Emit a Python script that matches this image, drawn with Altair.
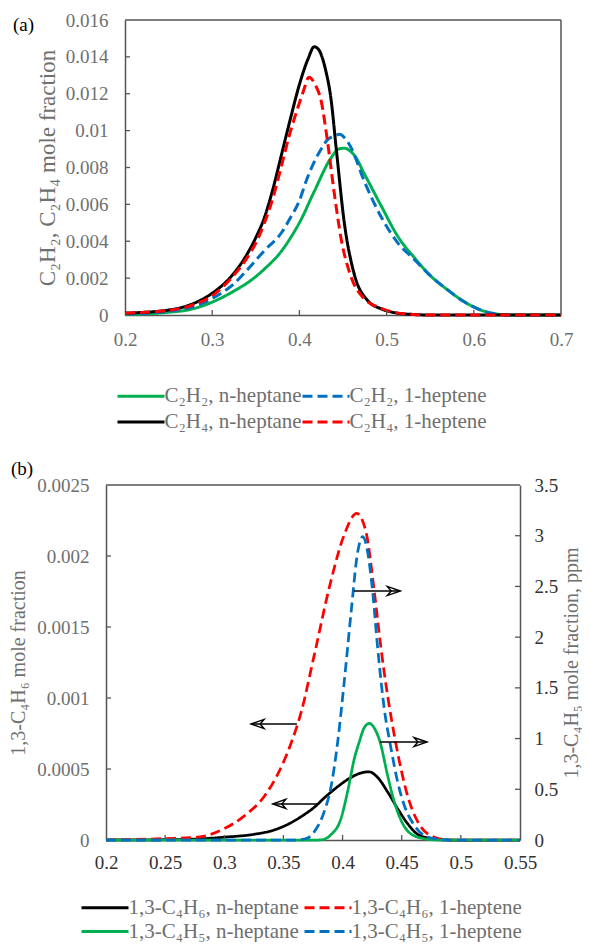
import altair as alt
import pandas as pd

FONT = "Liberation Serif"
GRAY = "#6f6f6f"
DARK = "#333333"
FRAME = "#555555"
GREEN = "#00B050"
BLUE = "#0070C0"
RED = "#FF0000"
BLACK = "#000000"
DASH = [10, 5]
SOLID = [1, 0]

# ---------------- panel (a) data ----------------
a_xticks = [0.2, 0.3, 0.4, 0.5, 0.6, 0.7]
a_yticks = [0, 0.002, 0.004, 0.006, 0.008, 0.01, 0.012, 0.014, 0.016]

a_green_x = [0.20, 0.25, 0.275, 0.30, 0.325, 0.345, 0.36, 0.38, 0.39, 0.40, 0.417, 0.436, 0.445, 0.452,
             0.458, 0.464, 0.474, 0.494, 0.513, 0.532, 0.551, 0.570, 0.589, 0.608, 0.627, 0.645, 0.70]
a_green_y = [0.00003, 0.00015, 0.0003, 0.0007, 0.0013, 0.0019, 0.0025, 0.0035, 0.0042, 0.0050, 0.0067,
             0.0085, 0.0090, 0.00905, 0.0089, 0.0086, 0.0077, 0.0059, 0.00425, 0.0031, 0.0021, 0.00136,
             0.00072, 0.00027, 0.00005, 0.0, 0.0]

a_blue_x = [0.20, 0.25, 0.275, 0.30, 0.325, 0.345, 0.36, 0.38, 0.39, 0.40, 0.408, 0.417, 0.425, 0.432,
            0.440, 0.446, 0.452, 0.459, 0.474, 0.494, 0.513, 0.532, 0.551, 0.570, 0.589, 0.608, 0.627,
            0.645, 0.70]
a_blue_y = [0.00005, 0.0002, 0.0004, 0.0009, 0.0017, 0.0027, 0.0035, 0.0045, 0.0053, 0.0062, 0.0073,
            0.0083, 0.0090, 0.0095, 0.0097, 0.0098, 0.0096, 0.0091, 0.0073, 0.0053, 0.0039, 0.0030,
            0.0021, 0.00136, 0.00072, 0.00027, 0.00005, 0.0, 0.0]

a_black_x = [0.20, 0.25, 0.275, 0.30, 0.32, 0.34, 0.35, 0.36, 0.37, 0.38, 0.39, 0.40, 0.41, 0.417, 0.422,
             0.43, 0.436, 0.4425, 0.4515, 0.463, 0.478, 0.494, 0.51, 0.53, 0.55, 0.70]
a_black_y = [0.0001, 0.00027, 0.00056, 0.00118, 0.0020, 0.0033, 0.0042, 0.0053, 0.0069, 0.0088, 0.0107,
             0.0125, 0.0139, 0.01455, 0.0144, 0.0133, 0.0118, 0.0089, 0.0050, 0.0022, 0.0008, 0.00033,
             0.00012, 0.00003, 0.0, 0.0]

a_red_x = [0.20, 0.25, 0.275, 0.30, 0.32, 0.34, 0.35, 0.36, 0.37, 0.38, 0.39, 0.40, 0.405, 0.411, 0.418,
           0.425, 0.432, 0.44, 0.448, 0.459, 0.474, 0.494, 0.51, 0.53, 0.55, 0.70]
a_red_y = [0.0001, 0.00025, 0.0005, 0.00105, 0.0019, 0.0031, 0.0039, 0.0050, 0.0064, 0.0082, 0.0100,
           0.0115, 0.0122, 0.0129, 0.0125, 0.0116, 0.0095, 0.0066, 0.0041, 0.0021, 0.0009, 0.00036,
           0.00013, 0.00003, 0.0, 0.0]

a_names = ["C₂H₂, n-heptane", "C₂H₂, 1-heptene", "C₂H₄, n-heptane", "C₂H₄, 1-heptene"]
a_colors = [GREEN, BLUE, BLACK, RED]
a_dashes = [SOLID, DASH, SOLID, DASH]

# ---------------- panel (b) data ----------------
b_xticks = [0.2, 0.25, 0.3, 0.35, 0.4, 0.45, 0.5, 0.55]
b_yticks = [0, 0.0005, 0.001, 0.0015, 0.002, 0.0025]
b_y2ticks = [0, 0.5, 1, 1.5, 2, 2.5, 3, 3.5]

b_black_x = [0.20, 0.25, 0.28, 0.30, 0.325, 0.342, 0.356, 0.366, 0.376, 0.385, 0.395, 0.405, 0.4155,
             0.4226, 0.4297, 0.438, 0.4466, 0.455, 0.4635, 0.475, 0.49, 0.55]
b_black_y = [0.0, 0.000002, 0.000008, 0.00002, 0.00004, 0.00007, 0.00012, 0.00017, 0.00023, 0.00030,
             0.00037, 0.00043, 0.000472, 0.00048, 0.00044, 0.00034, 0.00022, 0.000115, 0.00004, 0.00001,
             0.0, 0.0]

b_red_x = [0.20, 0.25, 0.2775, 0.30, 0.317, 0.334, 0.345, 0.3564, 0.365, 0.376, 0.390, 0.4014, 0.412,
           0.4198, 0.4268, 0.4325, 0.438, 0.4437, 0.4494, 0.455, 0.4635, 0.4747, 0.49, 0.55]
b_red_y = [0.0, 0.00001, 0.00002, 0.00008, 0.00017, 0.00031, 0.00046, 0.00068, 0.0009, 0.0013, 0.00182,
           0.00215, 0.0023, 0.00217, 0.00175, 0.00135, 0.00102, 0.00074, 0.0005, 0.00031, 0.00013,
           0.00003, 0.0, 0.0]

b_green_x = [0.20, 0.38, 0.385, 0.390, 0.3986, 0.4043, 0.4099, 0.4142, 0.418, 0.4226, 0.427, 0.4316,
             0.438, 0.4415, 0.45, 0.455, 0.466, 0.48, 0.55]
b_green_y = [0.0, 0.0, 0.01, 0.05, 0.21, 0.48, 0.80, 0.97, 1.10, 1.15, 1.10, 0.97, 0.64, 0.47, 0.18,
             0.09, 0.02, 0.0, 0.0]

b_blue_x = [0.20, 0.36, 0.3705, 0.376, 0.3845, 0.390, 0.3959, 0.4014, 0.407, 0.4128, 0.417, 0.4212,
            0.4254, 0.4297, 0.4353, 0.441, 0.4466, 0.4522, 0.4606, 0.472, 0.49, 0.55]
b_blue_y = [0.0, 0.0, 0.02, 0.08, 0.28, 0.51, 0.97, 1.56, 2.22, 2.84, 2.99, 2.84, 2.45, 1.89, 1.29,
            0.90, 0.57, 0.34, 0.145, 0.03, 0.0, 0.0]

b_names = ["1,3-C₄H₆, n-heptane", "1,3-C₄H₆, 1-heptene", "1,3-C₄H₅, n-heptane", "1,3-C₄H₅, 1-heptene"]
b_colors = [BLACK, RED, GREEN, BLUE]
b_dashes = [SOLID, DASH, SOLID, DASH]

# arrows (left-axis and right-axis ones)
arrL_from = [0.3614, 0.380]
arrL_tip = [0.3226, 0.341]
arrL_y = [0.000817, 0.000254]
arrR_from = [0.4096, 0.4316]
arrR_tip = [0.4488, 0.4714]
arrR_y = [2.455, 0.966]


def series(xs, ys, name):
    return pd.DataFrame({"x": xs, "y": ys, "series": name})


def legend(lx, ly, colpad, rowpad):
    # a long horizontal line symbol drawn with a small nominal size, so rows stay tight
    return alt.Legend(title=None, orient="none", legendX=lx, legendY=ly, columns=2,
                      direction="horizontal", symbolType="M-2.35,0L2.35,0", symbolSize=400,
                      symbolOffset=12, symbolStrokeWidth=3, symbolFillColor="transparent",
                      labelFont=FONT, labelFontSize=21, labelColor=GRAY,
                      labelOffset=12, columnPadding=colpad, rowPadding=rowpad, labelLimit=400)


def lab_axis(**kw):
    base = dict(format="~g", labelFont=FONT, labelFontSize=19, ticks=False, tickSize=0,
                domainColor=FRAME, domainWidth=1.5, grid=False, labelOverlap=False,
                titleFont=FONT, titleFontSize=20, titleFontWeight="normal", titleColor=GRAY)
    base.update(kw)
    return alt.Axis(**base)


# ---------------- panel (a) ----------------
AW, AH, AOFF = 455, 295, 19
xa = alt.Scale(domain=[0.2, 0.7], range=[AOFF, AW], nice=False, zero=False)
ya = alt.Scale(domain=[0, 0.016], nice=False, zero=False)
ax_ax = lab_axis(values=a_xticks, labelColor=GRAY, labelPadding=15, labelFlush=False, title=None)
ax_ay = lab_axis(values=a_yticks, labelColor=GRAY, labelPadding=17, offset=-AOFF,
                 title="C₂H₂, C₂H₄ mole fraction", titleFontSize=23, titlePadding=6)
leg_a = legend(11.5, 364.5, -9, 4)


def AX(f):
    return alt.X(f, scale=xa, axis=ax_ax)


def AY(f):
    return alt.Y(f, scale=ya, axis=ax_ay)


a_df = pd.concat([series(a_green_x, a_green_y, a_names[0]), series(a_blue_x, a_blue_y, a_names[1]),
                  series(a_black_x, a_black_y, a_names[2]), series(a_red_x, a_red_y, a_names[3])])

a_lines = alt.Chart(a_df).mark_line(strokeWidth=3, interpolate="monotone").encode(
    x=AX("x:Q"), y=AY("y:Q"),
    color=alt.Color("series:N", scale=alt.Scale(domain=a_names, range=a_colors), legend=leg_a),
    strokeDash=alt.StrokeDash("series:N", scale=alt.Scale(domain=a_names, range=a_dashes), legend=leg_a),
)

a_top = alt.Chart(pd.DataFrame({"x": [0.2], "x2": [0.7], "y": [0.016]})).mark_rule(
    color=FRAME, strokeWidth=1.5).encode(x=AX("x:Q"), x2="x2:Q", y=AY("y:Q"))
a_right = alt.Chart(pd.DataFrame({"x": [0.7], "y": [0.0], "y2": [0.016]})).mark_rule(
    color=FRAME, strokeWidth=1.5).encode(x=AX("x:Q"), y=AY("y:Q"), y2="y2:Q")
a_yt = alt.Chart(pd.DataFrame({"y": a_yticks[1:-1]})).mark_rule(color=FRAME, strokeWidth=1.3).encode(
    y=AY("y:Q"), x=alt.value(AOFF), x2=alt.value(AOFF + 5))
a_xt = alt.Chart(pd.DataFrame({"x": a_xticks[1:-1]})).mark_rule(color=FRAME, strokeWidth=1.3).encode(
    x=AX("x:Q"), y=alt.value(AH - 5), y2=alt.value(AH))
a_lab = alt.Chart(pd.DataFrame({"t": ["(a)"]})).mark_text(
    font=FONT, fontSize=19, color=BLACK, align="left", baseline="middle").encode(
    text="t:N", x=alt.value(-93), y=alt.value(5))

panel_a = alt.layer(a_lines, a_top, a_right, a_yt, a_xt, a_lab).properties(width=AW, height=AH)

# ---------------- panel (b) ----------------
BW, BH = 414, 355
xb = alt.Scale(domain=[0.2, 0.55], nice=False, zero=False)
ybl = alt.Scale(domain=[0, 0.0025], nice=False, zero=False)
ybr = alt.Scale(domain=[0, 3.5], nice=False, zero=False)
cb = alt.Scale(domain=b_names, range=b_colors)
db = alt.Scale(domain=b_names, range=b_dashes)
ax_bx = lab_axis(values=b_xticks, labelColor=DARK, labelPadding=13, labelFlush=False, title=None)
ax_bl = lab_axis(values=b_yticks, labelColor=GRAY, labelPadding=17,
                 title="1,3-C₄H₆ mole fraction", titlePadding=8)
ax_br = lab_axis(values=b_y2ticks, orient="right", labelColor=DARK, labelPadding=14,
                 title="1,3-C₄H₅ mole fraction, ppm", titleAngle=270, titleBaseline="top",
                 titlePadding=4)
leg_b = legend(-24.5, 411, -1, 2)


def BX(f):
    return alt.X(f, scale=xb, axis=ax_bx)


def BL(f):
    return alt.Y(f, scale=ybl, axis=ax_bl)


def BR(f):
    return alt.Y(f, scale=ybr, axis=ax_br)


b_left_df = pd.concat([series(b_black_x, b_black_y, b_names[0]), series(b_red_x, b_red_y, b_names[1])])
b_right_df = pd.concat([series(b_green_x, b_green_y, b_names[2]), series(b_blue_x, b_blue_y, b_names[3])])

b_lines_l = alt.Chart(b_left_df).mark_line(strokeWidth=2.75, interpolate="monotone").encode(
    x=BX("x:Q"), y=BL("y:Q"),
    color=alt.Color("series:N", scale=cb, legend=leg_b),
    strokeDash=alt.StrokeDash("series:N", scale=db, legend=leg_b),
)
b_top = alt.Chart(pd.DataFrame({"x": [0.2], "x2": [0.55], "y": [0.0025]})).mark_rule(
    color=FRAME, strokeWidth=1.5).encode(x=BX("x:Q"), x2="x2:Q", y=BL("y:Q"))
b_ylt = alt.Chart(pd.DataFrame({"y": b_yticks[1:-1]})).mark_rule(color=FRAME, strokeWidth=1.3).encode(
    y=BL("y:Q"), x=alt.value(0), x2=alt.value(5))
b_xt = alt.Chart(pd.DataFrame({"x": b_xticks[1:-1]})).mark_rule(color=FRAME, strokeWidth=1.3).encode(
    x=BX("x:Q"), y=alt.value(BH - 5), y2=alt.value(BH))
arrL_df = pd.DataFrame({"x": arrL_from, "x1": arrL_tip, "y": arrL_y})
b_arrL = alt.Chart(arrL_df).mark_rule(color=BLACK, strokeWidth=1.6).encode(
    x=BX("x:Q"), x2="x1:Q", y=BL("y:Q"))
b_headL = alt.Chart(arrL_df).mark_point(
    shape="M0,0 L2,-0.7 L1.4,0 L2,0.7 Z", size=169, filled=False, color=BLACK, strokeWidth=1.4,
    opacity=1).encode(x=BX("x1:Q"), y=BL("y:Q"))
b_lab = alt.Chart(pd.DataFrame({"t": ["(b)"]})).mark_text(
    font=FONT, fontSize=19, color=BLACK, align="left", baseline="middle").encode(
    text="t:N", x=alt.value(-95), y=alt.value(-16))

left_group = alt.layer(b_lines_l, b_top, b_ylt, b_xt, b_arrL, b_headL, b_lab)

b_lines_r = alt.Chart(b_right_df).mark_line(strokeWidth=2.75, interpolate="monotone").encode(
    x=BX("x:Q"), y=BR("y:Q"),
    color=alt.Color("series:N", scale=cb, legend=leg_b),
    strokeDash=alt.StrokeDash("series:N", scale=db, legend=leg_b),
)
b_yrt = alt.Chart(pd.DataFrame({"y": b_y2ticks[1:-1]})).mark_rule(color=FRAME, strokeWidth=1.3).encode(
    y=BR("y:Q"), x=alt.value(BW - 5), x2=alt.value(BW))
arrR_df = pd.DataFrame({"x": arrR_from, "x1": arrR_tip, "y": arrR_y})
b_arrR = alt.Chart(arrR_df).mark_rule(color=BLACK, strokeWidth=1.6).encode(
    x=BX("x:Q"), x2="x1:Q", y=BR("y:Q"))
b_headR = alt.Chart(arrR_df).mark_point(
    shape="M0,0 L-2,-0.7 L-1.4,0 L-2,0.7 Z", size=169, filled=False, color=BLACK, strokeWidth=1.4,
    opacity=1).encode(x=BX("x1:Q"), y=BR("y:Q"))

right_group = alt.layer(b_lines_r, b_yrt, b_arrR, b_headR)

panel_b = alt.layer(left_group, right_group).resolve_scale(y="independent").properties(
    width=BW, height=BH)

chart = alt.vconcat(panel_a, panel_b, spacing=27).resolve_scale(
    color="independent", strokeDash="independent").configure_view(strokeWidth=0).properties(
    padding={"left": 0, "top": 3, "right": 0, "bottom": 0})

chart.save("out.html", embed_options={"renderer": "svg", "actions": False})
